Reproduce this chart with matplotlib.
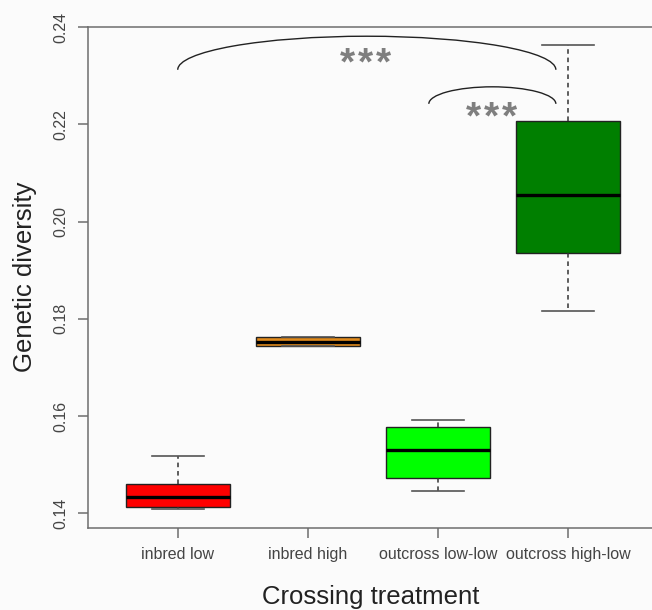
import matplotlib
matplotlib.use('Agg')
import matplotlib.pyplot as plt
from matplotlib.patches import Arc
from matplotlib.transforms import offset_copy

# values
labels = ['inbred low', 'inbred high', 'outcross low-low', 'outcross high-low']
whis_lo = [0.1409, 0.1744, 0.1447, 0.1816]
q1 = [0.1413, 0.1745, 0.1473, 0.1935]
med = [0.1434, 0.1753, 0.1531, 0.2054]
q3 = [0.1460, 0.1762, 0.1578, 0.2207]
whis_hi = [0.1517, 0.1762, 0.1592, 0.2362]
box_colors = ['#ff0000', '#e08a1c', '#00ff00', '#007f00']

# significance brackets: (from group, to group, base y, height, star x, star y)
brackets = [(1.0, 3.908, 0.2312, 0.0069, 2.446, 0.2342),
            (2.931, 3.908, 0.2242, 0.0035, 3.415, 0.2231)]
n_stars = 3
star_size = 28
star_gap = 13  # points between star centres

plt.rcParams['font.family'] = ['Liberation Sans', 'DejaVu Sans']

fig = plt.figure(figsize=(6.52, 6.10), dpi=100)
fig.patch.set_facecolor('#fbfbfb')
ax = fig.add_axes([88 / 652, 82 / 610, 565 / 652, 501.5 / 610])
ax.set_facecolor('#fbfbfb')

stats = []
for i in range(len(labels)):
    stats.append({'med': med[i], 'q1': q1[i], 'q3': q3[i],
                  'whislo': whis_lo[i], 'whishi': whis_hi[i],
                  'label': labels[i]})

bp = ax.bxp(stats, positions=[1, 2, 3, 4], widths=0.8, capwidths=0.4,
            showfliers=False, patch_artist=True,
            boxprops=dict(edgecolor='#222222', linewidth=1.0),
            medianprops=dict(color='black', linewidth=2.4),
            whiskerprops=dict(color='#333333', linestyle=(0, (3, 2.5)), linewidth=1.1),
            capprops=dict(color='#555555', linewidth=1.2))
for patch, c in zip(bp['boxes'], box_colors):
    patch.set_facecolor(c)

for x0, x1, yb, h, sx, sy in brackets:
    arc = Arc(((x0 + x1) / 2, yb), x1 - x0, 2 * h, theta1=0, theta2=180,
              color='#222222', linewidth=1.0)
    ax.add_patch(arc)
    # asterisks sit high in the em box, so shift the baseline down
    for k in range(n_stars):
        dx = (k - (n_stars - 1) / 2) * star_gap
        tr = offset_copy(ax.transData, fig=fig, x=dx, y=-0.58 * star_size + 2,
                         units='points')
        ax.text(sx, sy, '*', ha='center', va='baseline', fontsize=star_size,
                fontweight='bold', color='#7f7f7f', transform=tr)

ax.set_xlim(0.31, 4.655)
ax.set_ylim(0.1370, 0.2401)
ax.set_yticks([0.14, 0.16, 0.18, 0.20, 0.22, 0.24])
ax.set_yticklabels(['0.14', '0.16', '0.18', '0.20', '0.22', '0.24'])
ax.set_xticks([1, 2, 3, 4])
ax.set_xticklabels(labels)

for s in ['left', 'top', 'bottom']:
    ax.spines[s].set_color('#6e6e6e')
    ax.spines[s].set_linewidth(1.1)
ax.spines['right'].set_visible(False)

ax.tick_params(axis='both', colors='#6e6e6e', length=7, width=1.1,
               labelsize=11.5, labelcolor='#444444')
ax.tick_params(axis='x', pad=7)
ax.tick_params(axis='y', pad=7)
plt.setp(ax.get_yticklabels(), rotation=90, va='center')

ax.set_xlabel('Crossing treatment', fontsize=18.5, color='#222222', labelpad=16)
ax.set_ylabel('Genetic diversity', fontsize=18.5, color='#222222', labelpad=12)

fig.savefig('out.png', dpi=100, facecolor=fig.get_facecolor())
